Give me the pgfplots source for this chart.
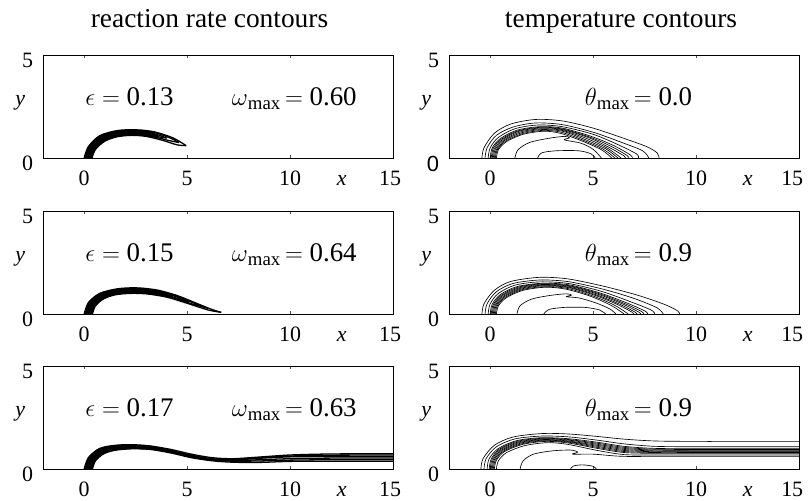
\documentclass[border=0pt]{standalone}
\usepackage{pgfplots}
\pgfplotsset{compat=1.18}
\usepackage{fontspec}
\setmainfont{Liberation Serif}
\setsansfont{Liberation Sans}
\newcommand{\tl}{\fontsize{22}{24}\selectfont}
\newcommand{\an}{\fontsize{27}{30}\selectfont}
\pgfplotsset{
  panel/.style={
    x=20.6bp, y=20.6bp,
    xmin=-2, xmax=15, ymin=0, ymax=5,
    anchor=north west,
    axis line style={line width=0.9pt},
    tick align=inside, major tick length=3bp,
    tick style={line width=0.4pt, black!70},
    xtick={0,5,10,15}, xticklabels={0,5,10,{15\hspace*{6bp}}},
    ytick={0,5}, yticklabels={0,5},
    xticklabel style={font=\tl, anchor=base, inner sep=0pt, yshift=-27.4bp},
    yticklabel style={font=\tl, anchor=east, inner sep=0pt, xshift=-9.7bp, yshift=-5.5bp},
    clip mode=individual,
  },
  rpanel/.style={panel, xticklabels={0,5,10,{15\hspace*{14bp}}}},
  rr/.style={black, line width=1.3pt, smooth},
  rf/.style={fill=black, draw=none, smooth},
  tc/.style={black, line width=0.65pt, smooth},
}
\newcommand{\xylabels}{%
  \node[font=\tl\itshape, anchor=base, yshift=-27.4bp] at (axis cs:12.5,0) {x};
  \node[font=\tl\itshape, anchor=base] at (axis cs:-3.1,2.55) {y};
}
\begin{document}
\begin{tikzpicture}
\path[use as bounding box] (0,0) rectangle (808bp,-501bp);
\node[font=\fontsize{27.5}{30}\selectfont, anchor=base] at (209.5bp,-27bp) {reaction rate contours};
\node[font=\fontsize{27.5}{30}\selectfont, anchor=base] at (621bp,-27bp) {temperature contours};

% ---------- Row 1 left: reaction rate, eps=0.13 ----------
\begin{axis}[panel, at={(43bp,-55bp)}]
\addplot[rf] coordinates {(0,0)(0.2,0.55)(0.75,1.08)(1.6,1.33)(2.5,1.37)(3.0,1.33)(3.0,1.07)(2.3,1.1)(1.6,1.03)(1.0,0.82)(0.55,0.42)(0.38,0)} -- cycle;
\addplot[rr] coordinates {(0.00,0)(0.2,0.55)(0.75,1.08)(1.6,1.33)(2.5,1.37)(3.4,1.27)(4.3,0.98)(4.95,0.6)};
\addplot[rr] coordinates {(4.95,0.6)(4.5,0.64)(3.8,0.86)(3.0,1.05)(2.3,1.1)(1.6,1.03)(1.0,0.82)(0.55,0.42)(0.38,0)};
\addplot[rr] coordinates {(0.05,0)(0.24,0.55)(0.8,1.06)(1.6,1.3)(2.5,1.34)(3.4,1.24)(4.2,0.96)(4.6,0.75)};
\addplot[rr] coordinates {(4.6,0.75)(4.1,0.85)(3.5,1.0)(2.6,1.14)(1.7,1.08)(1.05,0.86)(0.52,0.44)(0.34,0)};
\addplot[rr] coordinates {(0.09,0)(0.28,0.55)(0.84,1.04)(1.6,1.27)(2.5,1.31)(3.3,1.21)(4.0,0.97)};
\addplot[rr] coordinates {(4.0,0.97)(3.6,1.03)(2.7,1.17)(1.7,1.12)(1.07,0.9)(0.49,0.46)(0.3,0)};
\addplot[rr] coordinates {(0.13,0)(0.32,0.55)(0.88,1.02)(1.6,1.24)(2.5,1.28)(3.1,1.21)(3.6,1.07)};
\addplot[rr] coordinates {(3.6,1.07)(3.2,1.13)(2.6,1.2)(1.7,1.15)(1.1,0.93)(0.46,0.48)(0.26,0)};
\addplot[rr] coordinates {(0.17,0)(0.36,0.55)(0.92,1.0)(1.6,1.21)(2.5,1.25)(3.2,1.15)};
\addplot[rr] coordinates {(3.2,1.15)(2.6,1.22)(1.8,1.18)(1.15,0.96)(0.43,0.5)(0.22,0)};
\node[font=\an, anchor=base] at (axis cs:2.2,2.55) {$\epsilon =$ 0.13};
\node[font=\an, anchor=base] at (axis cs:10.2,2.55) {$\omega$\textsubscript{max}$\,=$ 0.60};
\xylabels
\end{axis}

% ---------- Row 1 right: temperature ----------
\begin{axis}[rpanel, at={(449bp,-55bp)}, yticklabels={\sffamily 0,5}]
\addplot[tc] coordinates {(-0.4,0)(-0.3,0.5)(0.2,1.2)(1,1.65)(2.2,1.87)(3.5,1.8)(5,1.45)(6.5,0.95)(7.6,0.55)(8.1,0.25)(8.2,0)};
\addplot[tc] coordinates {(-0.25,0)(-0.15,0.5)(0.3,1.1)(1.1,1.5)(2.2,1.7)(3.5,1.62)(5,1.25)(6.4,0.75)(7.4,0.35)(7.7,0)};
\addplot[tc] coordinates {(-0.1,0)(0,0.5)(0.4,1.0)(1.2,1.42)(2.3,1.6)(3.5,1.52)(5,1.15)(6.2,0.65)(7.1,0.2)(7.2,0)};
\addplot[tc] coordinates {(0,0)(0.1,0.5)(0.5,0.95)(1.3,1.35)(2.4,1.52)(3.5,1.45)(4.9,1.05)(6,0.6)(6.8,0.15)(6.9,0)};
\addplot[tc] coordinates {(0.05,0)(0.15,0.48)(0.55,0.92)(1.35,1.32)(2.45,1.49)(3.5,1.41)(4.85,1.01)(5.9,0.55)(6.65,0.12)(6.72,0)};
\addplot[tc] coordinates {(0.1,0)(0.2,0.45)(0.6,0.9)(1.4,1.3)(2.5,1.46)(3.5,1.38)(4.8,0.98)(5.8,0.5)(6.5,0.1)(6.55,0)};
\addplot[tc] coordinates {(0.15,0)(0.25,0.43)(0.65,0.87)(1.45,1.26)(2.5,1.42)(3.5,1.34)(4.7,0.94)(5.7,0.47)(6.35,0)};
\addplot[tc] coordinates {(0.2,0)(0.3,0.4)(0.7,0.85)(1.5,1.22)(2.5,1.38)(3.5,1.3)(4.6,0.9)(5.6,0.45)(6.2,0)};
\addplot[tc] coordinates {(0.25,0)(0.35,0.4)(0.75,0.82)(1.55,1.18)(2.55,1.34)(3.45,1.25)(4.5,0.87)(5.5,0.42)(6.05,0)};
\addplot[tc] coordinates {(0.3,0)(0.4,0.4)(0.8,0.8)(1.6,1.15)(2.6,1.3)(3.4,1.2)(4.4,0.85)(5.4,0.4)(5.9,0)};
\addplot[tc] coordinates {(1.2,0)(1.35,0.4)(1.9,0.75)(2.8,0.95)(3.6,1.05)(3.85,0.98)(3.6,0.88)(4.4,0.72)(5.0,0.42)(5.4,0)};
\addplot[tc] coordinates {(2.3,0)(2.5,0.25)(3.2,0.35)(4.3,0.35)(4.9,0.2)(5.1,0)};
\node[font=\an, anchor=base] at (axis cs:7.2,2.55) {$\theta$\textsubscript{max}$\,=$ 0.0};
\xylabels
\end{axis}

% ---------- Row 2 left: eps=0.15 ----------
\begin{axis}[panel, at={(43bp,-211bp)}]
\addplot[rf] coordinates {(0,0)(0.2,0.55)(0.75,1.0)(1.6,1.22)(2.5,1.27)(3.0,1.24)(3.0,0.98)(2.2,1.0)(1.5,0.93)(0.95,0.74)(0.55,0.4)(0.4,0)} -- cycle;
\addplot[rr] coordinates {(0,0)(0.2,0.55)(0.75,1.0)(1.6,1.22)(2.5,1.27)(3.5,1.17)(4.5,0.9)(5.5,0.5)(6.2,0.22)(6.65,0.08)};
\addplot[rr] coordinates {(6.65,0.08)(6.0,0.2)(5.0,0.52)(4.0,0.82)(3.0,0.98)(2.2,1.0)(1.5,0.93)(0.95,0.74)(0.55,0.4)(0.4,0)};
\addplot[rr] coordinates {(0.05,0)(0.24,0.55)(0.8,0.98)(1.6,1.19)(2.5,1.24)(3.5,1.14)(4.5,0.86)(5.4,0.5)(6.0,0.28)};
\addplot[rr] coordinates {(6.0,0.28)(5.2,0.5)(4.2,0.82)(3.1,1.01)(2.2,1.03)(1.5,0.96)(0.95,0.77)(0.52,0.42)(0.36,0)};
\addplot[rr] coordinates {(0.1,0)(0.28,0.55)(0.85,0.96)(1.6,1.16)(2.5,1.21)(3.5,1.11)(4.4,0.86)(5.1,0.58)};
\addplot[rr] coordinates {(5.1,0.58)(4.3,0.82)(3.2,1.04)(2.2,1.07)(1.5,0.99)(0.95,0.8)(0.49,0.44)(0.32,0)};
\addplot[rr] coordinates {(0.14,0)(0.32,0.55)(0.9,0.95)(1.6,1.13)(2.5,1.18)(3.5,1.08)(4.3,0.86)};
\addplot[rr] coordinates {(4.3,0.86)(3.4,1.05)(2.3,1.1)(1.5,1.02)(0.95,0.83)(0.46,0.46)(0.28,0)};
\addplot[rr] coordinates {(0.18,0)(0.36,0.55)(0.95,0.94)(1.6,1.1)(2.5,1.15)(3.4,1.07)};
\addplot[rr] coordinates {(3.4,1.07)(2.3,1.12)(1.5,1.05)(0.98,0.86)(0.43,0.48)(0.24,0)};
\node[font=\an, anchor=base] at (axis cs:2.2,2.55) {$\epsilon =$ 0.15};
\node[font=\an, anchor=base] at (axis cs:10.2,2.55) {$\omega$\textsubscript{max}$\,=$ 0.64};
\xylabels
\end{axis}

% ---------- Row 2 right ----------
\begin{axis}[rpanel, at={(449bp,-211bp)}]
\addplot[tc] coordinates {(-0.4,0)(-0.3,0.5)(0.2,1.15)(1.0,1.58)(2.4,1.78)(3.8,1.7)(5.5,1.35)(7.2,0.9)(8.5,0.45)(9.1,0.15)(9.2,0)};
\addplot[tc] coordinates {(-0.25,0)(-0.15,0.5)(0.3,1.08)(1.1,1.48)(2.4,1.65)(3.8,1.57)(5.5,1.2)(7.0,0.75)(8.1,0.3)(8.4,0)};
\addplot[tc] coordinates {(-0.1,0)(0,0.5)(0.4,1.0)(1.2,1.4)(2.4,1.56)(3.8,1.48)(5.4,1.1)(6.8,0.6)(7.8,0.2)(8.0,0)};
\addplot[tc] coordinates {(0,0)(0.1,0.48)(0.5,0.95)(1.3,1.33)(2.5,1.49)(3.8,1.42)(5.3,1.03)(6.6,0.55)(7.5,0.15)(7.65,0)};
\addplot[tc] coordinates {(0.05,0)(0.15,0.46)(0.55,0.92)(1.35,1.3)(2.5,1.46)(3.8,1.38)(5.25,1.0)(6.5,0.52)(7.35,0.12)(7.45,0)};
\addplot[tc] coordinates {(0.1,0)(0.2,0.45)(0.6,0.9)(1.4,1.27)(2.5,1.43)(3.8,1.35)(5.2,0.97)(6.4,0.5)(7.2,0.1)(7.3,0)};
\addplot[tc] coordinates {(0.15,0)(0.25,0.43)(0.65,0.87)(1.45,1.24)(2.55,1.4)(3.8,1.31)(5.15,0.93)(6.3,0.47)(7.05,0.08)(7.1,0)};
\addplot[tc] coordinates {(0.2,0)(0.3,0.42)(0.7,0.85)(1.5,1.21)(2.6,1.37)(3.8,1.28)(5.1,0.9)(6.2,0.45)(6.9,0.08)(6.95,0)};
\addplot[tc] coordinates {(0.25,0)(0.35,0.41)(0.75,0.82)(1.55,1.18)(2.65,1.33)(3.75,1.24)(5.0,0.87)(6.05,0.42)(6.7,0)};
\addplot[tc] coordinates {(0.3,0)(0.4,0.4)(0.8,0.8)(1.6,1.15)(2.7,1.3)(3.7,1.2)(4.9,0.85)(5.9,0.4)(6.5,0)};
\addplot[tc] coordinates {(1.3,0)(1.45,0.4)(2.0,0.72)(2.9,0.9)(3.7,0.98)(3.95,0.92)(3.7,0.84)(4.3,0.78)(5.1,0.55)(5.8,0.25)(6.1,0)};
\addplot[tc] coordinates {(2.6,0)(2.85,0.22)(3.6,0.32)(4.6,0.32)(5.3,0.2)(5.6,0)};
\node[font=\an, anchor=base] at (axis cs:7.2,2.55) {$\theta$\textsubscript{max}$\,=$ 0.9};
\xylabels
\end{axis}

% ---------- Row 3 left: eps=0.17 ----------
\begin{axis}[panel, at={(43bp,-366bp)}]
\addplot[rf] coordinates {(0,0)(0.2,0.55)(0.75,1.0)(1.5,1.15)(2.3,1.18)(3.0,1.14)(3.0,0.96)(2.3,0.98)(1.5,0.91)(0.95,0.74)(0.55,0.4)(0.4,0)} -- cycle;
\addplot[rr] coordinates {(0,0)(0.2,0.55)(0.75,1.0)(1.5,1.15)(2.3,1.18)(3.2,1.12)(4.2,0.95)(5.2,0.72)(6.2,0.55)(7.2,0.5)(8.5,0.58)(10,0.68)(12,0.73)(15,0.74)};
\addplot[rr] coordinates {(0.05,0)(0.24,0.55)(0.8,0.98)(1.5,1.12)(2.3,1.15)(3.2,1.09)(4.2,0.91)(5.2,0.67)(6.2,0.5)(7.2,0.46)(8.5,0.55)(10,0.63)(12,0.67)(15,0.68)};
\addplot[rr] coordinates {(0.1,0)(0.28,0.55)(0.85,0.96)(1.5,1.09)(2.3,1.12)(3.2,1.06)(4.2,0.88)(5.2,0.63)(6.2,0.47)(7.2,0.43)(8.5,0.52)(10,0.59)(12,0.61)(15,0.61)};
\addplot[rr] coordinates {(0.14,0)(0.32,0.55)(0.9,0.94)(1.5,1.06)(2.3,1.09)(3.2,1.02)(4.0,0.88)};
\addplot[rr] coordinates {(4.0,0.88)(3.2,0.99)(2.3,1.07)(1.5,1.0)(0.95,0.84)(0.46,0.5)(0.28,0)};
\addplot[rr] coordinates {(15,0.53)(12,0.53)(10,0.5)(8.5,0.45)(7.2,0.4)(6.2,0.45)(5.2,0.6)(4.2,0.85)(3.2,1.0)(2.3,1.04)(1.5,0.97)(0.95,0.8)(0.49,0.46)(0.32,0)};
\addplot[rr] coordinates {(15,0.45)(12,0.45)(10,0.43)(8.5,0.39)(7.2,0.38)(6.2,0.44)(5.2,0.59)(4.2,0.82)(3.2,0.98)(2.3,1.01)(1.5,0.94)(0.95,0.77)(0.52,0.43)(0.36,0)};
\addplot[rr] coordinates {(15,0.38)(12,0.38)(10,0.37)(8.5,0.32)(7.2,0.33)(6.2,0.4)(5.2,0.55)(4.2,0.78)(3.2,0.95)(2.3,0.98)(1.5,0.91)(0.95,0.74)(0.55,0.4)(0.4,0)};
\node[font=\an, anchor=base] at (axis cs:2.2,2.55) {$\epsilon =$ 0.17};
\node[font=\an, anchor=base] at (axis cs:10.2,2.55) {$\omega$\textsubscript{max}$\,=$ 0.63};
\xylabels
\end{axis}

% ---------- Row 3 right ----------
\begin{axis}[rpanel, at={(449bp,-366bp)}]
\addplot[tc] coordinates {(-0.45,0)(-0.35,0.5)(0.2,1.15)(1.1,1.55)(2.5,1.72)(3.8,1.7)(5.2,1.58)(6.5,1.45)(8,1.36)(10,1.34)(12,1.34)(15,1.34)};
\addplot[tc] coordinates {(-0.3,0)(-0.2,0.5)(0.3,1.08)(1.2,1.46)(2.5,1.6)(3.8,1.56)(5.2,1.4)(6.5,1.22)(8,1.1)(10,1.08)(12,1.08)(15,1.08)};
\addplot[tc] coordinates {(-0.15,0)(-0.05,0.5)(0.4,1.0)(1.3,1.38)(2.5,1.52)(3.8,1.47)(5.2,1.3)(6.5,1.1)(8,1.0)(10,0.99)(12,0.99)(15,0.99)};
\addplot[tc] coordinates {(-0.05,0)(0.05,0.49)(0.45,0.97)(1.35,1.35)(2.55,1.49)(3.8,1.43)(5.2,1.25)(6.5,1.05)(8,0.96)(10,0.95)(12,0.95)(15,0.95)};
\addplot[tc] coordinates {(0,0)(0.1,0.48)(0.5,0.95)(1.4,1.32)(2.6,1.46)(3.8,1.4)(5.2,1.2)(6.5,1.0)(8,0.92)(10,0.91)(12,0.91)(15,0.91)};
\addplot[tc] coordinates {(0.05,0)(0.15,0.46)(0.55,0.92)(1.45,1.29)(2.6,1.43)(3.8,1.36)(5.2,1.15)(6.5,0.95)(8,0.88)(10,0.87)(12,0.87)(15,0.87)};
\addplot[tc] coordinates {(0.1,0)(0.2,0.45)(0.6,0.9)(1.5,1.26)(2.6,1.4)(3.8,1.33)(5.2,1.1)(6.5,0.9)(8,0.84)(10,0.84)(12,0.84)(15,0.84)};
\addplot[tc] coordinates {(0.15,0)(0.25,0.43)(0.65,0.87)(1.55,1.23)(2.65,1.37)(3.8,1.3)(5.2,1.05)(6.5,0.85)(8,0.8)(10,0.8)(12,0.8)(15,0.8)};
\addplot[tc] coordinates {(0.2,0)(0.3,0.42)(0.7,0.85)(1.6,1.2)(2.7,1.34)(3.8,1.26)(5.2,1.0)(6.5,0.8)(8,0.76)(10,0.76)(12,0.76)(15,0.76)};
\addplot[tc] coordinates {(0.3,0)(0.4,0.4)(0.8,0.8)(1.7,1.14)(2.8,1.28)(3.8,1.19)(5.2,0.9)(6.5,0.7)(8,0.68)(10,0.68)(12,0.68)(15,0.68)};
\addplot[tc] coordinates {(1.45,0)(1.6,0.4)(2.1,0.72)(3.0,0.88)(3.9,0.92)(4.25,0.82)(4.0,0.72)(5.0,0.72)(6.3,0.62)(8,0.6)(10,0.6)(12,0.6)(15,0.6)};
\addplot[tc] coordinates {(3.9,0)(4.05,0.15)(4.5,0.2)(5.0,0.13)(5.15,0)};
\node[font=\an, anchor=base] at (axis cs:7.2,2.55) {$\theta$\textsubscript{max}$\,=$ 0.9};
\xylabels
\end{axis}
\end{tikzpicture}
\end{document}
